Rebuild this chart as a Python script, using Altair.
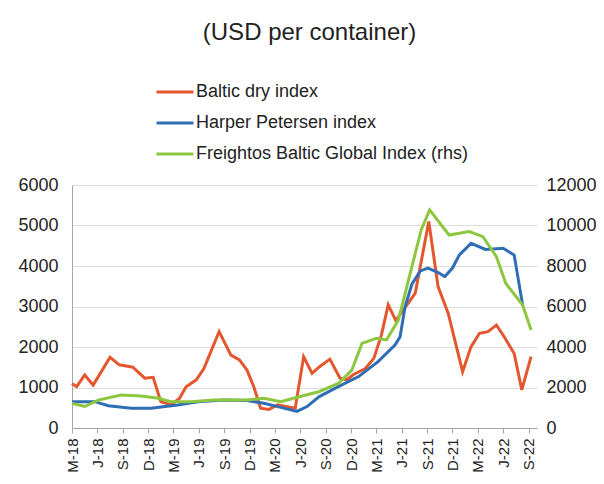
import altair as alt
import pandas as pd

# x position = months since March 2018 (tick labels every quarter)
tick_labels = ["M-18", "J-18", "S-18", "D-18", "M-19", "J-19", "S-19", "D-19",
               "M-20", "J-20", "S-20", "D-20", "M-21", "J-21", "S-21", "D-21",
               "M-22", "J-22", "S-22"]

series_names = ["Baltic dry index", "Harper Petersen index",
                "Freightos Baltic Global Index (rhs)"]
series_colors = ["#E4572E", "#2F6EB5", "#8DC63F"]

bdi_x = [0, 0.55, 1.5, 2.5, 4.5, 5.6, 7.2, 8.6, 9.6, 10.5, 11.7, 12.7, 13.5, 14.7, 15.6,
         17.4, 18.8, 19.8, 20.7, 21.5, 22.3, 23.3, 24.3, 25.3, 26.4, 27.4, 28.4, 29.2, 30.5,
         31.7, 32.5, 33.3, 34.7, 35.7, 36.6, 37.4, 38.3, 40.6, 42.2, 43.3, 44.5, 46.2, 47.2,
         48.2, 49.2, 50.2, 51.1, 52.3, 53.2, 54.3]
bdi_y = [1100, 1020, 1310, 1060, 1745, 1560, 1500, 1230, 1250, 650, 570, 730, 1020, 1190, 1470,
         2380, 1800, 1680, 1430, 1020, 490, 460, 570, 530, 490, 1760, 1350, 1500, 1700,
         1230, 1190, 1320, 1470, 1720, 2300, 3040, 2650, 3330, 5100, 3490, 2830, 1390, 2010,
         2340, 2380, 2540, 2260, 1840, 940, 1760]

hp_x = [0, 2.7, 4.3, 7, 9.4, 11, 12.5, 14.9, 18, 20.7, 22.7, 24.7, 26.6, 27.8, 29.2, 31.5,
        33.9, 36.2, 38.2, 38.8, 39.4, 40.2, 41.2, 42.1, 43.2, 44.1, 45, 45.8, 47.2, 48.9,
        51.0, 52.3, 53.3]
hp_y = [650, 650, 550, 490, 490, 530, 570, 650, 690, 680, 610, 510, 410, 530, 770, 1020,
        1270, 1640, 2050, 2250, 3000, 3550, 3880, 3950, 3850, 3740, 3950, 4270, 4560, 4410,
        4440, 4270, 3040]

fbx_x = [0, 1.5, 3.1, 5.8, 8.2, 10.2, 11.7, 14.1, 16.8, 20.7, 22.7, 24.7, 26.2, 28.6, 29.2,
         31.5, 33.1, 34.3, 36.0, 37.2, 38.6, 39.8, 41.3, 42.3, 44.6, 47.0, 48.6, 50.2, 51.3,
         53.3, 54.3]
fbx_y = [1220, 1060, 1380, 1630, 1580, 1470, 1300, 1300, 1380, 1380, 1470, 1300, 1470, 1730,
         1790, 2200, 2860, 4180, 4430, 4350, 5330, 7300, 9780, 10770, 9530, 9700, 9450, 8460,
         7150, 6070, 4840]

left_df = pd.concat([
    pd.DataFrame({"series": series_names[0], "m": bdi_x, "v": bdi_y}),
    pd.DataFrame({"series": series_names[1], "m": hp_x, "v": hp_y}),
])
right_df = pd.DataFrame({"series": series_names[2], "m": fbx_x, "v": fbx_y})

label_expr = "[" + ",".join("'%s'" % t for t in tick_labels) + "][round(datum.value/3)]"

x_enc = alt.X("m:Q", scale=alt.Scale(domain=[0, 55], nice=False, zero=False),
              axis=alt.Axis(values=list(range(0, 55, 3)), labelExpr=label_expr,
                            labelAngle=270, labelAlign="right", labelBaseline="middle",
                            labelPadding=5, tickSize=5, grid=False, title=None,
                            domainColor="#a6a6a6", tickColor="#a6a6a6",
                            labelFontSize=15))

color_enc = alt.Color("series:N",
                      scale=alt.Scale(domain=series_names, range=series_colors),
                      legend=alt.Legend(title=None, orient="none", legendX=83, legendY=-113,
                                        direction="vertical", symbolType="stroke",
                                        symbolSize=1369, symbolStrokeWidth=3,
                                        labelFontSize=18, labelColor="#222222",
                                        labelOffset=1, rowPadding=2, labelLimit=0,
                                        labelFont="Liberation Sans"))

left = alt.Chart(left_df).mark_line(strokeWidth=3).encode(
    x=x_enc,
    y=alt.Y("v:Q", scale=alt.Scale(domain=[0, 6000], nice=False),
            axis=alt.Axis(values=list(range(0, 6001, 1000)), title=None, ticks=False,
                          format="d", domainColor="#a6a6a6", gridColor="#dcdcdc",
                          labelPadding=14, labelFontSize=18)),
    color=color_enc,
    order="m:Q",
)

right = alt.Chart(right_df).mark_line(strokeWidth=3).encode(
    x=x_enc,
    y=alt.Y("v:Q", scale=alt.Scale(domain=[0, 12000], nice=False),
            axis=alt.Axis(values=list(range(0, 12001, 2000)), orient="right", title=None,
                          format="d", ticks=False, domain=False, grid=False,
                          labelPadding=9, labelFontSize=18)),
    color=color_enc,
    order="m:Q",
)

chart = alt.layer(left, right).resolve_scale(y="independent").properties(
    width=465, height=243,
    autosize=alt.AutoSizeParams(type="none"),
    padding={"left": 64, "top": 177, "right": 59, "bottom": 44},
    title=alt.Title("(USD per container)", fontSize=24, fontWeight="normal",
                    color="#222222", font="Liberation Sans", anchor="middle",
                    offset=27, dx=5),
).configure_view(stroke=None).configure_axis(
    labelFont="Liberation Sans", labelColor="#222222"
)

chart.save("out.html", embed_options={"renderer": "svg", "actions": False})
